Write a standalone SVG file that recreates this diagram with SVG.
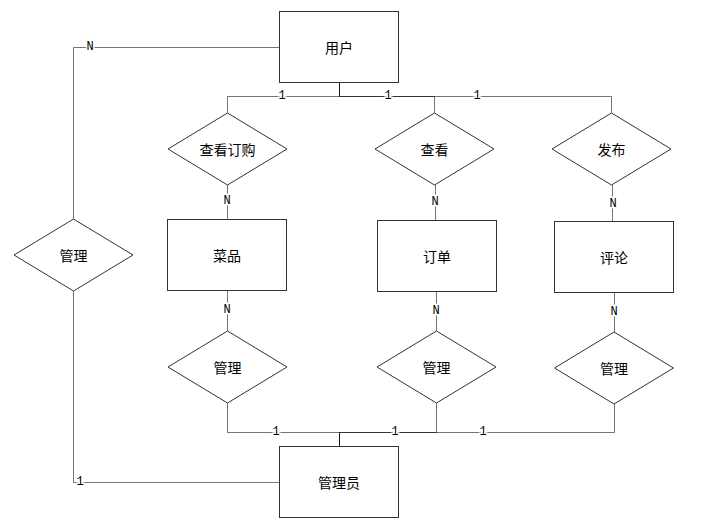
<svg xmlns="http://www.w3.org/2000/svg" width="716" height="525" viewBox="0 0 716 525">
<style>
.ent{fill:#fff;stroke:#333;stroke-width:1}
.rel{fill:#fff;stroke:#333;stroke-width:1}
.t{font-family:"Noto Sans CJK SC","Noto Sans",sans-serif;font-size:14px;fill:#000;text-anchor:middle;dominant-baseline:central}
.c{fill:none;stroke:#000;stroke-opacity:.55;stroke-width:1}
.l{font-family:"Liberation Mono","DejaVu Sans Mono",monospace;font-size:12px;fill:#000;text-anchor:middle;dominant-baseline:central;stroke:#fff;stroke-width:3;paint-order:stroke}
</style>
<rect width="716" height="525" fill="#fff"/>
<g id="connectors">
<path class="c" d="M339.5,82.5V96.5H227.5V113"/>
<path class="c" d="M339.5,82.5V96.5H434.5V113"/>
<path class="c" d="M339.5,82.5V96.5H611.5V113"/>
<path class="c" d="M227.5,185V219.5"/>
<path class="c" d="M435.5,185V220"/>
<path class="c" d="M612.5,185V221"/>
<path class="c" d="M227.5,290.5V331"/>
<path class="c" d="M436.5,291V331"/>
<path class="c" d="M614.5,292V332"/>
<path class="c" d="M227.5,403V432.5H339.5V446"/>
<path class="c" d="M436.5,403V432.5H339.5V446"/>
<path class="c" d="M614.5,404V432.5H339.5V446"/>
<path class="c" d="M279.5,47.5H73.5V219"/>
<path class="c" d="M73.5,291V482.5H279.5"/>
<text class="l" x="90" y="47">N</text>
<text class="l" x="282" y="96">1</text>
<text class="l" x="388" y="96">1</text>
<text class="l" x="477" y="96">1</text>
<text class="l" x="227" y="201">N</text>
<text class="l" x="435" y="202">N</text>
<text class="l" x="613" y="204">N</text>
<text class="l" x="227" y="310">N</text>
<text class="l" x="436" y="311">N</text>
<text class="l" x="614" y="312">N</text>
<text class="l" x="276" y="432">1</text>
<text class="l" x="395" y="432">1</text>
<text class="l" x="483" y="432">1</text>
<text class="l" x="80" y="482">1</text>
</g>
<g id="user"><rect class="ent" x="279.5" y="11.5" width="119" height="71"/><text class="t" x="339" y="47">用户</text></g>
<g id="dish"><rect class="ent" x="167.5" y="219.5" width="119" height="71"/><text class="t" x="227" y="255">菜品</text></g>
<g id="order"><rect class="ent" x="377.5" y="220.5" width="119" height="71"/><text class="t" x="437" y="256">订单</text></g>
<g id="comment"><rect class="ent" x="554.5" y="221.5" width="119" height="71"/><text class="t" x="614" y="257">评论</text></g>
<g id="admin"><rect class="ent" x="279.5" y="446.5" width="119" height="71"/><text class="t" x="339" y="482">管理员</text></g>
<g id="r-view-order"><polygon class="rel" points="227.5,113 287,149 227.5,185 168,149"/><text class="t" x="227.5" y="149">查看订购</text></g>
<g id="r-view"><polygon class="rel" points="434.5,113 494,149 434.5,185 375,149"/><text class="t" x="434.5" y="149">查看</text></g>
<g id="r-publish"><polygon class="rel" points="611.5,113 671,149 611.5,185 552,149"/><text class="t" x="611.5" y="149">发布</text></g>
<g id="r-manage-user"><polygon class="rel" points="73.5,219 133,255 73.5,291 14,255"/><text class="t" x="73.5" y="255">管理</text></g>
<g id="r-manage-dish"><polygon class="rel" points="227.5,331 287,367 227.5,403 168,367"/><text class="t" x="227.5" y="367">管理</text></g>
<g id="r-manage-order"><polygon class="rel" points="436.5,331 496,367 436.5,403 377,367"/><text class="t" x="436.5" y="367">管理</text></g>
<g id="r-manage-comment"><polygon class="rel" points="614,332 673.5,368 614,404 554.5,368"/><text class="t" x="614" y="368">管理</text></g>
</svg>
